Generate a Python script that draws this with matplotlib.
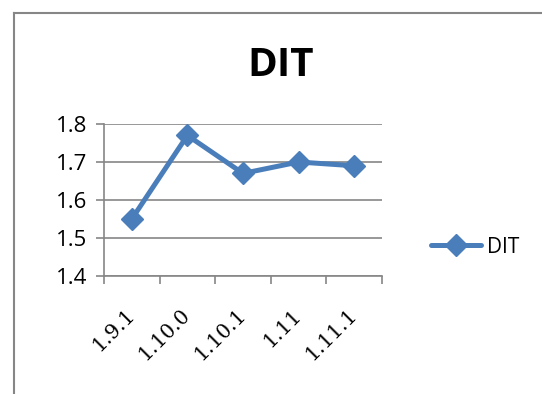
import matplotlib.pyplot as plt
from matplotlib.lines import Line2D

versions = ["1.9.1", "1.10.0", "1.10.1", "1.11", "1.11.1"]
dit = [1.55, 1.77, 1.67, 1.70, 1.69]
yticks = [1.4, 1.5, 1.6, 1.7, 1.8]

blue = "#4a7ebb"
gray = "#868686"

W, H = 542, 394
fig = plt.figure(figsize=(W / 100, H / 100), dpi=100)

# chart frame (only left and top edges visible)
fig.add_artist(Line2D([14 / W, 14 / W], [0, 1 - 13 / H], color=gray, lw=1.5))
fig.add_artist(Line2D([14 / W, 1], [1 - 13 / H, 1 - 13 / H], color=gray, lw=1.5))

ax = fig.add_axes([104 / W, 1 - 276 / H, (382 - 104) / W, (276 - 124) / H])

x = list(range(len(versions)))
ax.plot(x, dit, color=blue, lw=3.6, marker="D", markersize=11, label="DIT",
        solid_joinstyle="round", solid_capstyle="round")

ax.set_xlim(-0.5, len(versions) - 0.5)
ax.set_ylim(1.4, 1.8)
ax.set_yticks(yticks)
ax.set_yticklabels(["%.1f" % v for v in yticks], family="Open Sans", fontsize=16)
ax.yaxis.grid(True, color=gray, lw=1.2)
ax.set_axisbelow(True)

# category ticks sit between the labels
ax.set_xticks([i - 0.5 for i in range(len(versions) + 1)], minor=True)
ax.set_xticks(x)
ax.set_xticklabels(versions, family="DejaVu Serif", fontsize=14.5, rotation=45,
                   ha="right", va="center", rotation_mode="anchor")
ax.tick_params(axis="x", which="major", length=0, pad=26)
ax.tick_params(axis="x", which="minor", length=6, color=gray, width=1.2, direction="out")
ax.tick_params(axis="y", length=6, color=gray, width=1.2, pad=6)

for s in ["top", "right"]:
    ax.spines[s].set_visible(False)
for s in ["left", "bottom"]:
    ax.spines[s].set_color(gray)
    ax.spines[s].set_linewidth(1.2)

fig.text(281 / W, 1 - 65 / H, "DIT", ha="center", va="center",
         fontsize=29, fontweight="bold", family="Open Sans")

fig.legend(handles=ax.get_lines(), loc="center left", bbox_to_anchor=(412 / W, 1 - 247 / H),
           frameon=False, handlelength=2.4, handletextpad=0.3,
           prop={"family": "Open Sans", "size": 15})

fig.savefig("out.png", dpi=100)
